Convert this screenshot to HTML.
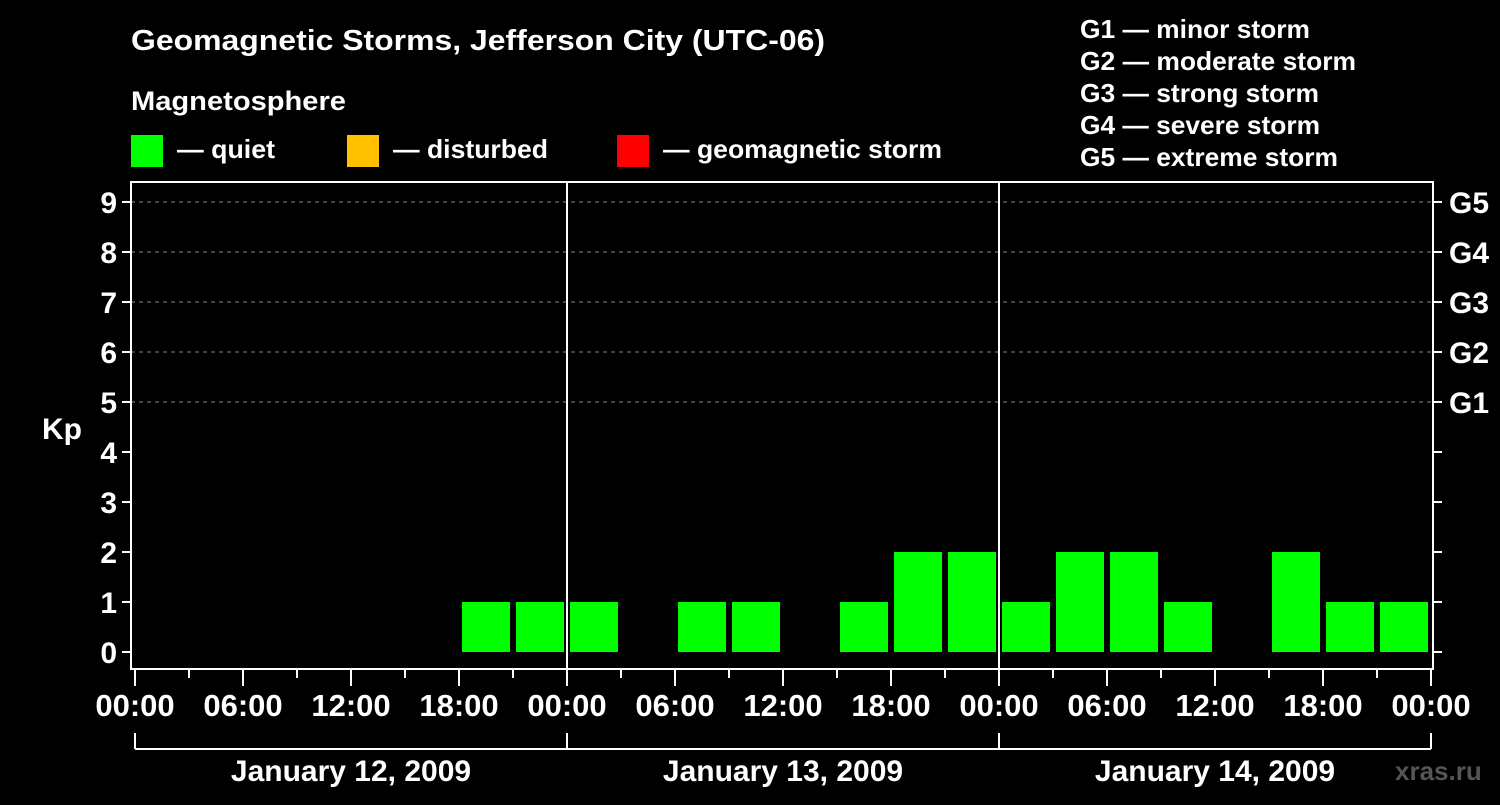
<!DOCTYPE html>
<html><head><meta charset="utf-8"><style>
body{margin:0;background:#000;width:1500px;height:800px;overflow:hidden}
svg text{font-family:"Liberation Sans",Arial,sans-serif;font-weight:bold;fill:#fff}
</style></head><body>
<svg id="chart" width="1500" height="800" xmlns="http://www.w3.org/2000/svg">
<rect width="1500" height="800" fill="#000"/>
<text x="131" y="50" font-size="29" textLength="694" lengthAdjust="spacingAndGlyphs">Geomagnetic Storms, Jefferson City (UTC-06)</text>
<text x="131" y="110" font-size="27" textLength="215" lengthAdjust="spacingAndGlyphs">Magnetosphere</text>
<g><rect x="131" y="135" width="32" height="32" fill="#00ff00"/><text x="177" y="158" font-size="26" textLength="98" lengthAdjust="spacingAndGlyphs">— quiet</text></g>
<g><rect x="347" y="135" width="32" height="32" fill="#ffc000"/><text x="393" y="158" font-size="26" textLength="155" lengthAdjust="spacingAndGlyphs">— disturbed</text></g>
<g><rect x="617" y="135" width="32" height="32" fill="#ff0000"/><text x="663" y="158" font-size="26" textLength="279" lengthAdjust="spacingAndGlyphs">— geomagnetic storm</text></g>
<g font-size="26">
<text x="1080" y="38" textLength="230" lengthAdjust="spacingAndGlyphs">G1 — minor storm</text>
<text x="1080" y="70" textLength="276" lengthAdjust="spacingAndGlyphs">G2 — moderate storm</text>
<text x="1080" y="102" textLength="239" lengthAdjust="spacingAndGlyphs">G3 — strong storm</text>
<text x="1080" y="134" textLength="240" lengthAdjust="spacingAndGlyphs">G4 — severe storm</text>
<text x="1080" y="166" textLength="258" lengthAdjust="spacingAndGlyphs">G5 — extreme storm</text>
</g>
<text x="42" y="439" font-size="30">Kp</text>
<g id="grid"></g><g id="bars"></g><g id="axes"></g>
<text x="1395" y="780" font-size="26" style="fill:#555">xras.ru</text>
</svg>
<script>
const dates = ["January 12, 2009","January 13, 2009","January 14, 2009"];
const kpValues = [0,0,0,0,0,0,1,1, 1,0,1,1,0,1,2,2, 1,2,2,1,0,2,1,1];
const yTicks = [0,1,2,3,4,5,6,7,8,9];
const gLabels = ["G1","G2","G3","G4","G5"];
const xLabels = ["00:00","06:00","12:00","18:00"];
const NS="http://www.w3.org/2000/svg";
const x0=135, pxH=18, yBase=652, pxK=50, L=131, R=1433, T=182, B=669;
const xs = h => x0 + h*pxH;
const ys = k => yBase - k*pxK;
function mk(tag, attrs, parent){const e=document.createElementNS(NS,tag);for(const k in attrs)e.setAttribute(k,attrs[k]);parent.appendChild(e);return e;}
const grid=document.getElementById('grid'), bars=document.getElementById('bars'), axes=document.getElementById('axes');
for(let k=5;k<=9;k++){
  const l=mk('line',{x1:L,x2:R,y1:ys(k),y2:ys(k),stroke:'#888','stroke-dasharray':'4,4','stroke-width':1},grid);
  
  
}
kpValues.forEach((v,i)=>{
  if(v<=0) return;
  const col = v>=5?'#ff0000':(v>=4?'#ffc000':'#00ff00');
  const r=mk('rect',{x:xs(i*3)+3,y:ys(v),width:48,height:v*pxK,fill:col},bars);
  
  
});
const fr=mk('rect',{x:L,y:T,width:R-L,height:B-T,fill:'none',stroke:'#fff','stroke-width':2},axes);


for(let d=1;d<dates.length;d++){
  const l=mk('line',{x1:xs(d*24),x2:xs(d*24),y1:T,y2:B,stroke:'#fff','stroke-width':2},axes);
  
  
}
yTicks.forEach(k=>{
  mk('line',{x1:L-9,x2:L,y1:ys(k),y2:ys(k),stroke:'#fff','stroke-width':2},axes);
  mk('line',{x1:R,x2:R+9,y1:ys(k),y2:ys(k),stroke:'#fff','stroke-width':2},axes);
  const t=mk('text',{x:L-14,y:ys(k)+11,'font-size':30,'text-anchor':'end'},axes);
  t.textContent=k;
  
  
});
gLabels.forEach((g,i)=>{
  const t=mk('text',{x:1449,y:ys(i+5)+11,'font-size':30},axes);
  t.textContent=g;
  
  
});
const totalH=dates.length*24;
for(let h=0;h<=totalH;h+=3){
  const major=h%6===0;
  mk('line',{x1:xs(h),x2:xs(h),y1:B,y2:B+(major?17:9),stroke:'#fff','stroke-width':2},axes);
  if(major){
    const t=mk('text',{x:xs(h),y:716,'font-size':31,'text-anchor':'middle'},axes);
    t.textContent=xLabels[(h/6)%4];
    
    
  }
}
mk('line',{x1:xs(0),x2:xs(totalH),y1:749,y2:749,stroke:'#fff','stroke-width':2},axes);
for(let d=0;d<=dates.length;d++) mk('line',{x1:xs(d*24),x2:xs(d*24),y1:733,y2:749,stroke:'#fff','stroke-width':2},axes);
dates.forEach((s,d)=>{
  const t=mk('text',{x:xs(d*24+12),y:781,'font-size':30,'text-anchor':'middle'},axes);
  t.textContent=s;
  
  
});
</script>
</body></html>
